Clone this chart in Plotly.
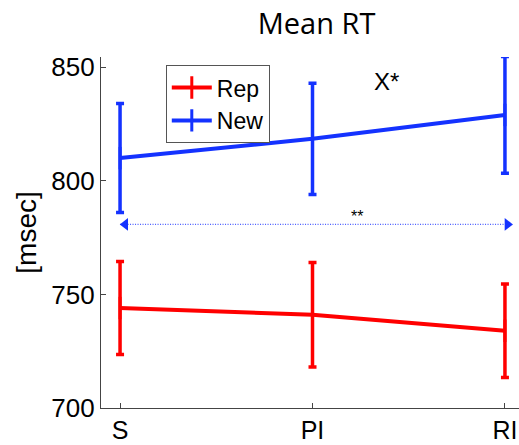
import plotly.graph_objects as go

categories = ["S", "PI", "RI"]
xpos = [1, 2, 3]
rep_mean = [744, 741, 734]
rep_err = [20.5, 23, 20.6]
new_mean = [810, 818.5, 829]
new_err = [24, 24.5, 25.7]
ytick_vals = [700, 750, 800, 850]
sig_line_x = [1.0, 3.04]
sig_line_y = [780.8, 780.8]

RED = "#FF0000"
BLUE = "#1432FF"
FONT = "Arial, Liberation Sans, sans-serif"

fig = go.Figure()
for name, mean, err, col in [("Rep", rep_mean, rep_err, RED), ("New", new_mean, new_err, BLUE)]:
    fig.add_trace(go.Scatter(
        x=xpos, y=mean, name=name, mode="lines+markers",
        line=dict(color=col, width=4),
        marker=dict(symbol="line-ns", size=16, color=col, line=dict(color=col, width=3)),
        error_y=dict(type="data", array=err, color=col, thickness=3.5, width=4),
    ))
# dotted double arrow
fig.add_trace(go.Scatter(
    x=sig_line_x, y=sig_line_y, mode="lines", showlegend=False,
    line=dict(color="#4a5cff", width=1.2, dash="1px,1.5px"), hoverinfo="skip",
))
fig.add_trace(go.Scatter(
    x=[sig_line_x[0] + 0.027, sig_line_x[1] - 0.027], y=sig_line_y, mode="markers",
    showlegend=False, hoverinfo="skip",
    marker=dict(symbol=["triangle-left", "triangle-right"], size=11, color=BLUE),
))

fig.add_annotation(x=2.387, y=843.5, text="X*", showarrow=False,
                   font=dict(family=FONT, size=24, color="black"))
fig.add_annotation(x=2.23, y=784.3, text="**", showarrow=False,
                   font=dict(family=FONT, size=16, color="black"))

fig.update_layout(
    width=519, height=445,
    margin=dict(l=101, r=0, t=57, b=37),
    paper_bgcolor="white", plot_bgcolor="white",
    title=dict(text="Mean RT", x=0.61, xanchor="center", y=0.946, yanchor="middle",
               font=dict(family="Open Sans, sans-serif", size=29, color="black")),
    showlegend=True,
    legend=dict(x=0.155, y=0.977, xanchor="left", yanchor="top",
                bordercolor="#555555", borderwidth=1, bgcolor="white",
                font=dict(family=FONT, size=23, color="black"),
                tracegroupgap=0, itemwidth=40),
    font=dict(family=FONT, color="black"),
)
fig.update_xaxes(
    range=[0.901, 3.073], tickvals=xpos, ticktext=categories,
    showline=True, linecolor="#444444", linewidth=1.2,
    ticks="inside", ticklen=5, tickcolor="#444444",
    showgrid=False, zeroline=False,
    tickfont=dict(family=FONT, size=25, color="black"),
)
fig.update_yaxes(
    range=[700, 854.5], tickvals=ytick_vals,
    showline=True, linecolor="#444444", linewidth=1.2,
    ticks="inside", ticklen=5, tickcolor="#444444",
    showgrid=False, zeroline=False,
    tickfont=dict(family=FONT, size=26, color="black"),
    title=dict(text="[msec]", font=dict(family=FONT, size=28, color="black"), standoff=6),
)

fig.write_html("out.html", config={"displayModeBar": False},
               post_script="document.body.style.margin='0';")
